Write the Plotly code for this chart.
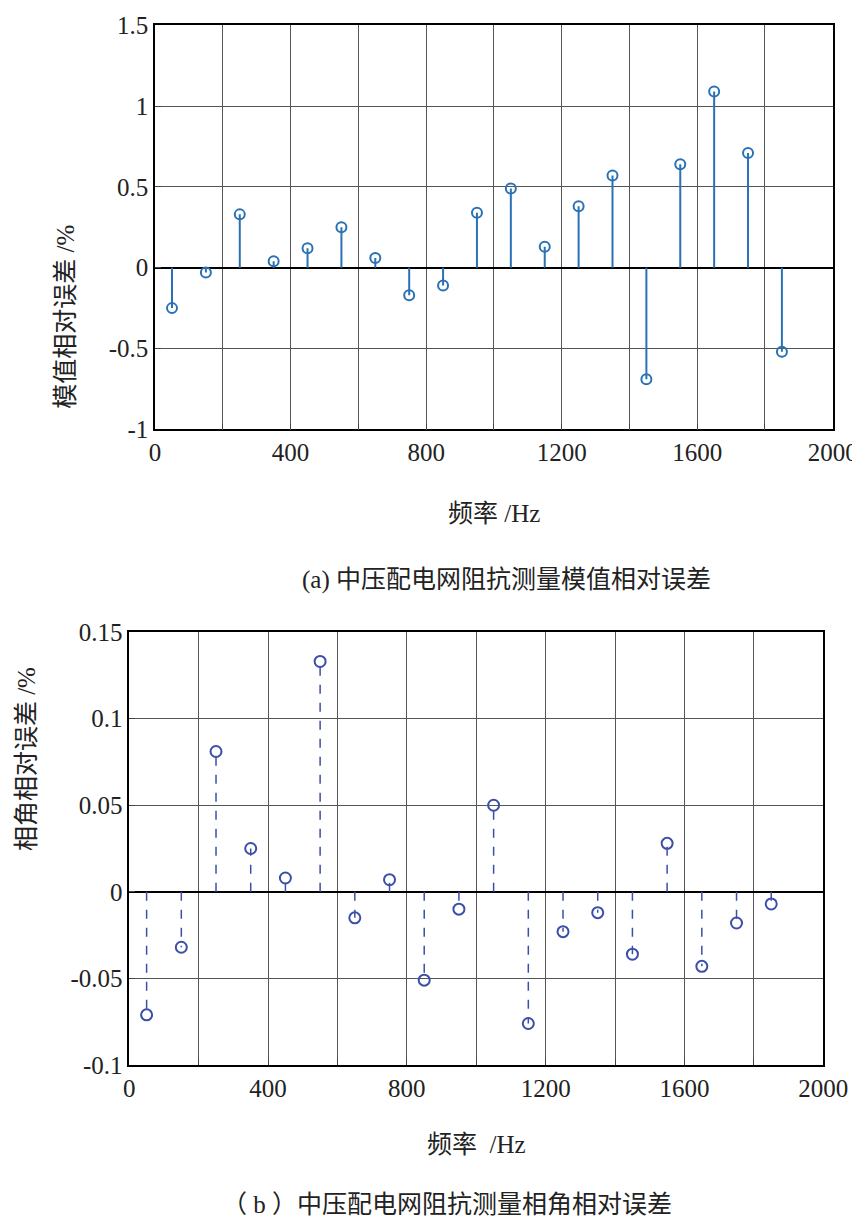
import plotly.graph_objects as go

freq = [50,150,250,350,450,550,650,750,850,950,1050,1150,1250,1350,1450,1550,1650,1750,1850]
mag_err = [-0.25,-0.03,0.33,0.04,0.12,0.25,0.06,-0.17,-0.11,0.34,0.49,0.13,0.38,0.57,-0.69,0.64,1.09,0.71,-0.52]
ang_err = [-0.071,-0.032,0.081,0.025,0.008,0.133,-0.015,0.007,-0.051,-0.010,0.050,-0.076,-0.023,-0.012,-0.036,0.028,-0.043,-0.018,-0.007]

def stems(xs, ys):
    sx, sy = [], []
    for x, y in zip(xs, ys):
        sx += [x, x, None]; sy += [0, y, None]
    return sx, sy

fig = go.Figure()
c1 = "#2a72b5"; c2 = "#3b4fa8"
sx, sy = stems(freq, mag_err)
fig.add_trace(go.Scatter(x=sx, y=sy, mode="lines", line=dict(color=c1, width=2), xaxis="x", yaxis="y", showlegend=False))
fig.add_trace(go.Scatter(x=freq, y=mag_err, mode="markers", marker=dict(symbol="circle-open", size=10, color=c1, line=dict(width=2)), xaxis="x", yaxis="y", showlegend=False))
sx, sy = stems(freq, ang_err)
fig.add_trace(go.Scatter(x=sx, y=sy, mode="lines", line=dict(color=c2, width=1.5, dash="dash"), xaxis="x2", yaxis="y2", showlegend=False))
fig.add_trace(go.Scatter(x=freq, y=ang_err, mode="markers", marker=dict(symbol="circle-open", size=11, color=c2, line=dict(width=2)), xaxis="x2", yaxis="y2", showlegend=False))

font = dict(family="Liberation Serif, Noto Sans CJK SC", size=25, color="#222")
ax = dict(showline=True, linecolor="black", linewidth=1.5, mirror=True, ticks="inside", ticklen=6, automargin=False,
          showgrid=True, gridcolor="#555", gridwidth=1, zeroline=False, tickfont=font)
fig.update_layout(
    width=860, height=1232, margin=dict(l=0, r=0, t=0, b=0),
    plot_bgcolor="white", paper_bgcolor="white", font=font,
    xaxis=dict(ax, domain=[0.171, 0.959], range=[0, 2000], tickvals=[0,400,800,1200,1600,2000], anchor="y",
               minor=dict(tickvals=[200,600,1000,1400,1800], showgrid=True, gridcolor="#555", ticks="inside", ticklen=6)),
    yaxis=dict(ax, domain=[0.658, 0.986], range=[-1, 1.5], tickvals=[-1,-0.5,0,0.5,1,1.5], ticktext=["-1","-0.5","0","0.5","1","1.5"], anchor="x",
               zeroline=True, zerolinecolor="black", zerolinewidth=2),
    xaxis2=dict(ax, domain=[0.141, 0.948], range=[0, 2000], tickvals=[0,400,800,1200,1600,2000], anchor="y2",
                minor=dict(tickvals=[200,600,1000,1400,1800], showgrid=True, gridcolor="#555", ticks="inside", ticklen=6)),
    yaxis2=dict(ax, domain=[0.142, 0.4935], range=[-0.1, 0.15], tickvals=[-0.1,-0.05,0,0.05,0.1,0.15], ticktext=["-0.1","-0.05","0","0.05","0.1","0.15"], anchor="x2",
                zeroline=True, zerolinecolor="black", zerolinewidth=2),
)
ann = [
    dict(text="频率 /Hz", x=0.565, y=1-505/1232),
    dict(text="(a) 中压配电网阻抗测量模值相对误差", x=0.58, y=1-572/1232),
    dict(text="频率  /Hz", x=0.545, y=1-1152/1232),
    dict(text="（ b ）中压配电网阻抗测量相角相对误差", x=0.51, y=1-1212/1232),
]
for a in ann:
    fig.add_annotation(xref="paper", yref="paper", showarrow=False, font=font, **a)
fig.add_annotation(text="模值相对误差 /%", xref="paper", yref="paper", x=0.048, y=1-215/1232, textangle=-90, showarrow=False, font=font)
fig.add_annotation(text="相角相对误差 /%", xref="paper", yref="paper", x=0.003, y=1-845/1232, textangle=-90, showarrow=False, font=font)
fig.write_html("out.html")
